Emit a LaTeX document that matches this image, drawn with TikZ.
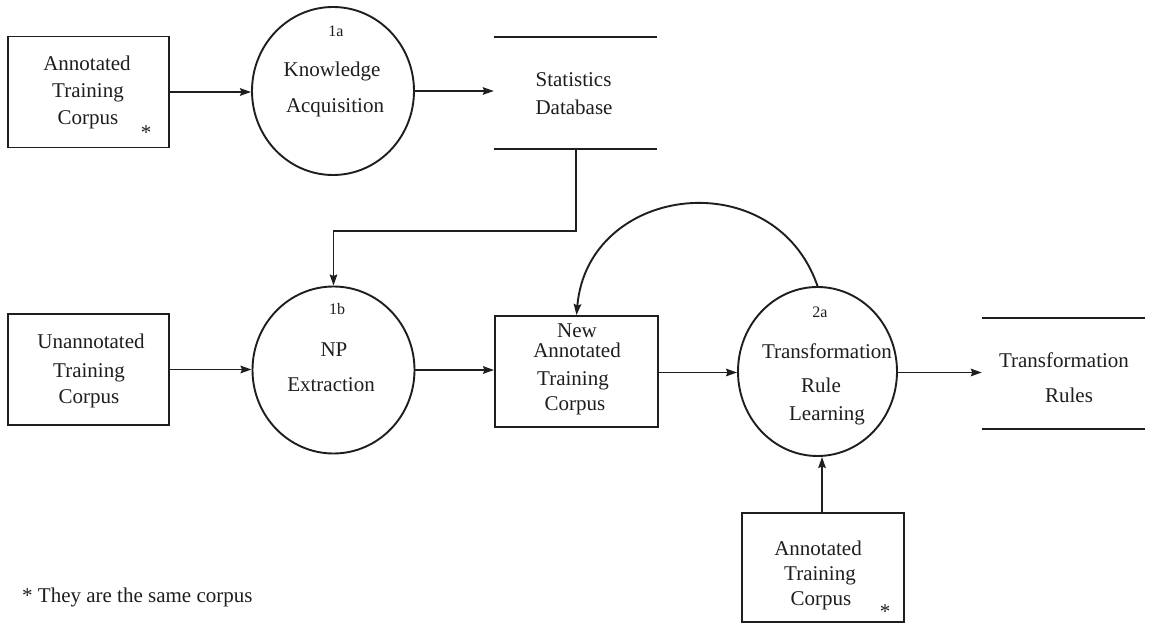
\documentclass[tikz,border=0pt]{standalone}
\usepackage{fontspec}
\setmainfont{Liberation Serif}
\usetikzlibrary{arrows.meta,shapes.geometric}
\definecolor{inkc}{RGB}{30,30,30}
\begin{document}
\begin{tikzpicture}[x=1pt,y=1pt,
  ink/.style={draw=inkc, line width=1.9pt},
  corpus/.style={ink, rectangle, minimum width=161pt, minimum height=111pt, inner sep=0pt},
  proc/.style={ink, ellipse, minimum width=162pt, minimum height=168pt, inner sep=0pt},
  store/.style={rectangle, minimum width=163pt, minimum height=112pt, inner sep=0pt},
  txt/.style={anchor=base, inner sep=0pt, text=inkc, font=\fontsize{21}{25}\selectfont},
  tag/.style={anchor=base, inner sep=0pt, text=inkc, font=\fontsize{16}{19}\selectfont},
  flow/.style={draw=inkc, line width=1.9pt, -{Stealth[length=11pt,width=7.5pt,inset=1.5pt]}},
  storeline/.style={draw=inkc, line width=1.9pt},
]
\fill[white] (0,0) rectangle (1155,624);
\useasboundingbox (0,0) rectangle (1155,624);

% ---- corpora, processes and data stores
\node[corpus] (a1) at (88.5,532) {};
\node[proc] (k1) at (333,533) {};
\node[store] (sdb) at (575.5,531) {};
\node[corpus] (u) at (88.5,254.5) {};
\node[proc, minimum height=167pt] (np) at (333.5,254) {};
\node[corpus, minimum width=163pt] (new) at (576.5,252.5) {};
\node[proc, minimum width=159pt, minimum height=169pt] (ta) at (817.5,252.5) {};
\node[store, minimum height=111pt] (tr) at (1063.5,250.5) {};
\node[corpus, minimum width=162pt, minimum height=109pt] (bot) at (823,56.5) {};

% data store bars
\draw[storeline] (sdb.north west) -- (sdb.north east);
\draw[storeline] (sdb.south west) -- (sdb.south east);
\draw[storeline] (tr.north west) -- (tr.north east);
\draw[storeline] (tr.south west) -- (tr.south east);

% ---- labels
\node[txt] (a1t1) at (87,553) {Annotated};
\node[txt] (a1t2) at (88,526) {Training};
\node[txt] (a1t3) at (88,499) {Corpus};
\node[txt] (a1s) at (146,484) {*};

\node[tag] (k1n) at (336,587) {1a};
\node[txt] (k1t1) at (332,547) {Knowledge};
\node[txt] (k1t2) at (335,511) {Acquisition};

\node[txt] (sdbt1) at (573.5,537) {Statistics};
\node[txt] (sdbt2) at (574,509) {Database};

\node[txt] (ut1) at (91,275) {Unannotated};
\node[txt] (ut2) at (89,247) {Training};
\node[txt] (ut3) at (89,221) {Corpus};

\node[tag] (npn) at (337,309) {1b};
\node[txt] (npt1) at (334,267) {NP};
\node[txt] (npt2) at (331,233) {Extraction};

\node[txt] (newt1) at (577,286) {New};
\node[txt] (newt2) at (577,266) {Annotated};
\node[txt] (newt3) at (573,239) {Training};
\node[txt] (newt4) at (575,214) {Corpus};

\node[tag] (tan) at (820,306) {2a};
\node[txt] (tat1) at (827,265) {Transformation};
\node[txt] (tat2) at (821,231) {Rule};
\node[txt] (tat3) at (827,204) {Learning};

\node[txt] (trt1) at (1064,256) {Transformation};
\node[txt] (trt2) at (1069,222) {Rules};

\node[txt] (bott1) at (818,69) {Annotated};
\node[txt] (bott2) at (820,44) {Training};
\node[txt] (bott3) at (821,19) {Corpus};
\node[txt] (bots) at (885,6) {*};

\node[txt, anchor=base west] (note) at (22,22) {* They are the same corpus};

% ---- flows
\coordinate (bend) at (576,393);
\draw[flow] (a1.east) -- (a1.east -| k1.west);
\draw[flow] (k1.east) -- (k1.east -| sdb.west);
\draw[flow] (sdb.south -| bend) -- (bend) -| (np.north);
\draw[flow] (u.east) -- (u.east -| np.west);
\draw[flow] (np.east) -- (np.east -| new.west);
\draw[flow] (new.east |- 0,251.5) -- (ta.west |- 0,251.5);
\draw[flow] (ta.east |- 0,251.5) -- (tr.west |- 0,251.5);
\draw[flow] (bot.north -| 822,0) -- (ta.south -| 822,0);
\draw[flow] (ta.north) to[out=109, in=85, looseness=1.39] (new.north);
\end{tikzpicture}
\end{document}
